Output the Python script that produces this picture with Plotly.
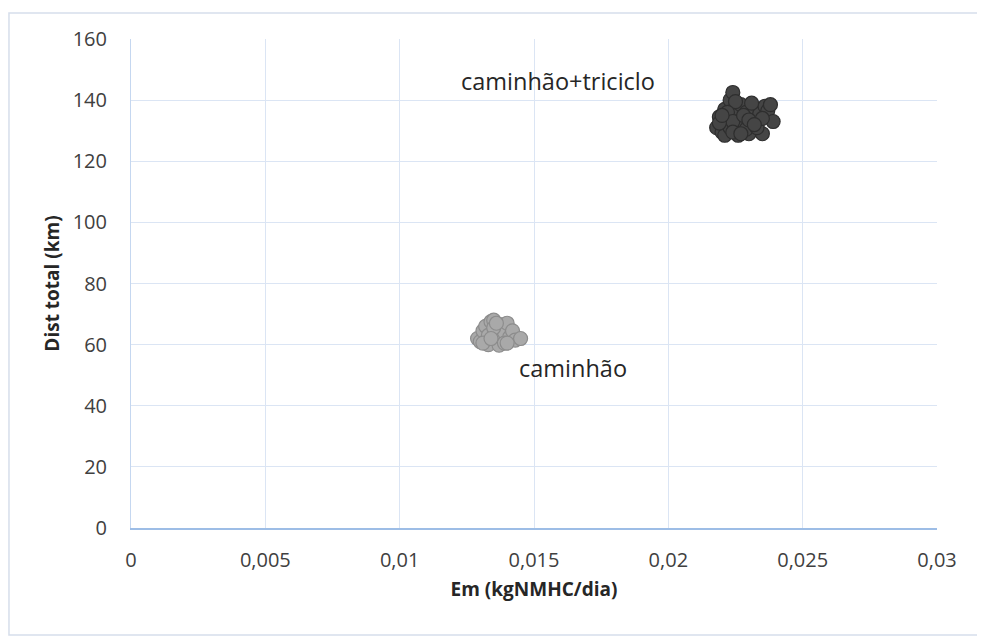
import plotly.graph_objects as go

# caminhão+triciclo cluster
tri_x = [0.0218, 0.0219, 0.0220, 0.0221, 0.0222, 0.0223, 0.0224, 0.0225, 0.0226, 0.0227,
         0.0228, 0.0229, 0.0230, 0.0231, 0.0232, 0.0233, 0.0234, 0.0235, 0.0236, 0.0237,
         0.0238, 0.0239, 0.0221, 0.0223, 0.0225, 0.0227, 0.0229, 0.0231, 0.0222, 0.0224,
         0.0226, 0.0228, 0.0230, 0.0219, 0.0233, 0.0235, 0.0220, 0.0224, 0.0227, 0.0232]
tri_y = [131.0, 134.5, 129.5, 137.0, 133.0, 140.0, 142.5, 135.0, 130.0, 138.5,
         132.5, 136.0, 129.0, 134.0, 137.5, 131.5, 135.5, 129.0, 138.0, 136.5,
         138.5, 133.0, 128.5, 131.0, 139.5, 133.5, 130.5, 139.0, 136.0, 133.0,
         128.5, 135.0, 133.5, 132.5, 131.0, 134.0, 135.0, 129.5, 129.0, 132.0]

# caminhão cluster
cam_x = [0.0129, 0.0130, 0.0131, 0.0132, 0.0133, 0.0134, 0.0135, 0.0136, 0.0137, 0.0138,
         0.0139, 0.0140, 0.0141, 0.0142, 0.0143, 0.0145, 0.0133, 0.0135, 0.0137, 0.0139,
         0.0131, 0.0136, 0.0140, 0.0134]
cam_y = [62.0, 61.0, 64.5, 66.0, 60.0, 67.5, 68.0, 63.5, 61.0, 66.5,
         64.0, 67.0, 62.5, 64.5, 61.5, 62.0, 63.0, 65.5, 59.8, 60.5,
         60.5, 67.0, 60.5, 62.0]

x_ticks = [0, 0.005, 0.01, 0.015, 0.02, 0.025, 0.03]
x_labels = ["0", "0,005", "0,01", "0,015", "0,02", "0,025", "0,03"]
y_ticks = [0, 20, 40, 60, 80, 100, 120, 140, 160]

FONT = "Open Sans"

fig = go.Figure()
fig.add_trace(go.Scatter(
    x=cam_x, y=cam_y, mode="markers", name="caminhão",
    marker=dict(size=14, color="#a9a9a9", line=dict(color="#8c8c8c", width=1.2)),
))
fig.add_trace(go.Scatter(
    x=tri_x, y=tri_y, mode="markers", name="caminhão+triciclo",
    marker=dict(size=14, color="#454545", line=dict(color="#2e2e2e", width=1.2)),
))

fig.add_annotation(x=0.01589, y=146.3, text="caminhão+triciclo", showarrow=False,
                   font=dict(family=FONT, size=23.5, color="#262626"))
fig.add_annotation(x=0.01645, y=52.4, text="caminhão", showarrow=False,
                   font=dict(family=FONT, size=23.5, color="#262626"))

# outer chart border
fig.add_shape(type="rect", xref="paper", yref="paper",
              x0=-0.1514, x1=1.0509, y0=-0.2188, y1=1.0532,
              line=dict(color="#d6deeb", width=1.5), layer="below")

fig.update_layout(
    width=977, height=633,
    margin=dict(l=123, r=48, t=31, b=113),
    plot_bgcolor="white", paper_bgcolor="white",
    showlegend=False,
    font=dict(family=FONT, size=20, color="#404040"),
    xaxis=dict(
        range=[0, 0.03], tickvals=x_ticks, ticktext=x_labels,
        showgrid=True, gridcolor="#dbe5f4", gridwidth=1,
        showline=True, linecolor="#9dbde6", linewidth=1.5,
        zeroline=False, ticks="outside", ticklen=13, tickcolor="rgba(0,0,0,0)",
        tickfont=dict(family=FONT, size=20, color="#404040"),
        automargin=False,
        title=dict(text="<b>Em (kgNMHC/dia)</b>", standoff=11,
                   font=dict(family=FONT, size=19, color="#262626")),
    ),
    yaxis=dict(
        range=[0, 160], tickvals=y_ticks,
        showgrid=True, gridcolor="#dbe5f4", gridwidth=1,
        showline=True, linecolor="#c5d7f0", linewidth=1,
        zeroline=False, ticks="outside", ticklen=19, tickcolor="rgba(0,0,0,0)",
        tickfont=dict(family=FONT, size=20, color="#404040"),
        automargin=False,
        title=dict(text="<b>Dist total (km)</b>", standoff=8,
                   font=dict(family=FONT, size=19, color="#262626")),
    ),
)

fig.write_html("out.html")
